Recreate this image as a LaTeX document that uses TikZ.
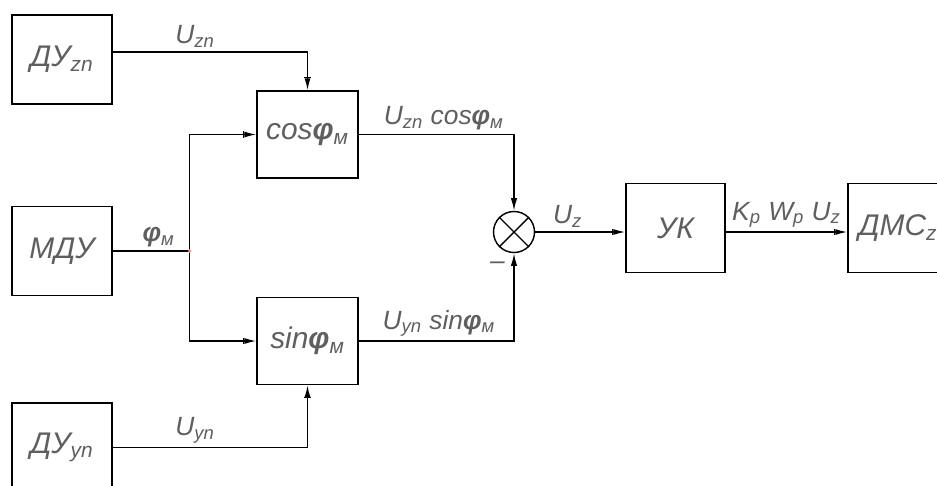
\documentclass[tikz,border=0pt]{standalone}
\usepackage{fontspec}
\setmainfont{Liberation Sans}
\usetikzlibrary{arrows.meta, positioning, calc}
\definecolor{textgray}{RGB}{95,95,95}

\begin{document}
\begin{tikzpicture}[
  x=0.2mm, y=-0.2mm,
  every node/.style={text=textgray},
  block/.style={
    draw=black, line width=0.8pt, fill=white,
    minimum width=20mm, minimum height=17.8mm,
    inner sep=0pt, font=\itshape\fontsize{17}{20}\selectfont
  },
  func/.style={block, minimum width=20.2mm, minimum height=17.4mm},
  sumnode/.style={draw=black, line width=0.8pt, circle, minimum size=8.2mm, inner sep=0pt},
  arrow/.style={-{Bar[width=1.3mm, line width=0.6pt] Latex[length=2.4mm, width=1.2mm]}, line width=0.8pt},
  siglabel/.style={font=\itshape\fontsize{15}{17}\selectfont, inner sep=2pt}
]
  \clip (0,0) rectangle (937,485);
  \fill[white] (0,0) rectangle (937,485);

  % Bloki
  \node[block] (dyzn) at (62,59.5) {ДУ\textsubscript{zn}};
  \node[block] (mdu) at (62,251) {МДУ};
  \node[block] (dyyn) at (62,447.5) {ДУ\textsubscript{yn}};
  \node[func] (cosb) at (307.5,134.5) {cos\textbf{φ}\textsubscript{м}};
  \node[func] (sinb) at (307.5,341) {sin\textbf{φ}\textsubscript{м}};
  \node[sumnode] (sum) at (514,232) {};
  \node[block, minimum width=19.8mm] (uk) at (675.5,228) {УК};
  \node[block] (dmc) at (898,228) {ДМС\textsubscript{z}};
  \coordinate (split) at ($(mdu.east)+(77,0)$);

  % Sumator
  \draw[line width=0.8pt] (sum.north east) -- (sum.south west)
    (sum.north west) -- (sum.south east);

  % Vhodnye signaly
  \draw[arrow] ([yshift=1.5mm]dyzn.east) -| (cosb.north)
    node[siglabel, pos=0.25, above, xshift=-3mm] {U\textsubscript{zn}};
  \draw[arrow] (dyyn.east) -| (sinb.south)
    node[siglabel, pos=0.25, above, xshift=-3mm] {U\textsubscript{yn}};
  \draw[line width=0.8pt] (mdu.east) -- (split)
    node[siglabel, midway, above, xshift=1.5mm] {\textbf{φ}\textsubscript{м}};
  \draw[arrow] (split) |- (cosb.west);
  \draw[arrow] (split) |- (sinb.west);
  \fill[red!45] (split) circle (1.8);

  % K sumatoru
  \draw[arrow] (cosb.east) -| (sum.north)
    node[siglabel, pos=0.25, above, xshift=1.5mm] {U\textsubscript{zn} cos\textbf{φ}\textsubscript{м}};
  \draw[arrow] (sinb.east) -| (sum.south)
    node[siglabel, pos=0.25, above, xshift=0.5mm] {U\textsubscript{yn} sin\textbf{φ}\textsubscript{м}}
    node[siglabel, pos=0.93, left, xshift=-1mm] {–};

  % Vyhod
  \draw[arrow] (sum.east) -- (sum -| uk.west)
    node[siglabel, midway, above, xshift=-2.5mm] {U\textsubscript{z}};
  \draw[arrow] (sum -| uk.east) -- (sum -| dmc.west)
    node[siglabel, midway, above] {K\textsubscript{p} W\textsubscript{p} U\textsubscript{z}};

\end{tikzpicture}
\end{document}
